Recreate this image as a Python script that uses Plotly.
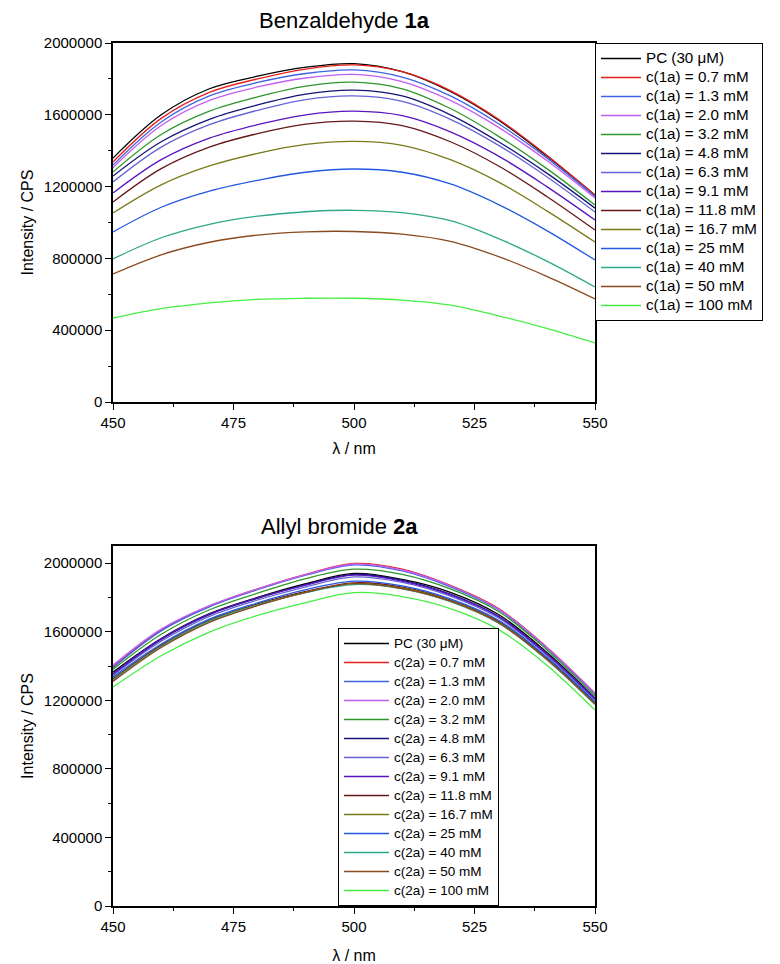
import plotly.graph_objects as go

wavelength = [450, 460, 470, 480, 490, 500, 510, 520, 530, 540, 550]

conc_labels = ["0.7", "1.3", "2.0", "3.2", "4.8", "6.3", "9.1", "11.8", "16.7", "25", "40", "50", "100"]

colors = ["#000000", "#e8201c", "#3f63e0", "#c45ef0", "#2f962a", "#141478", "#6464d8",
          "#5a14c0", "#661818", "#7a7a1c", "#2458e0", "#2fa88a", "#8a4a1e", "#44ee44"]

# Benzaldehyde 1a (values in counts per second)
top_pc   = [1359000, 1600000, 1745000, 1815000, 1865000, 1885000, 1840000, 1730000, 1570000, 1370000, 1153000]
top_0p7  = [1337000, 1580000, 1725000, 1800000, 1855000, 1878000, 1840000, 1735000, 1575000, 1375000, 1153000]
top_1p3  = [1320000, 1560000, 1705000, 1780000, 1830000, 1850000, 1810000, 1705000, 1550000, 1360000, 1145000]
top_2p0  = [1305000, 1540000, 1680000, 1755000, 1805000, 1825000, 1785000, 1680000, 1530000, 1345000, 1136000]
top_3p2  = [1281000, 1490000, 1620000, 1700000, 1760000, 1782000, 1745000, 1635000, 1480000, 1300000, 1097000]
top_4p8  = [1259000, 1450000, 1575000, 1655000, 1715000, 1737000, 1705000, 1600000, 1450000, 1275000, 1080000]
top_6p3  = [1226000, 1420000, 1545000, 1625000, 1685000, 1705000, 1675000, 1575000, 1430000, 1255000, 1058000]
top_9p1  = [1164000, 1350000, 1470000, 1545000, 1600000, 1620000, 1595000, 1505000, 1370000, 1200000, 1014000]
top_11p8 = [1114000, 1300000, 1420000, 1495000, 1548000, 1565000, 1540000, 1450000, 1315000, 1145000, 958000]
top_16p7 = [1053000, 1210000, 1315000, 1385000, 1435000, 1452000, 1430000, 1350000, 1225000, 1065000, 891000]
top_25   = [947000, 1085000, 1175000, 1235000, 1280000, 1298000, 1280000, 1215000, 1100000, 955000, 791000]
top_40   = [797000, 915000, 990000, 1035000, 1060000, 1068000, 1055000, 1010000, 910000, 785000, 641000]
top_50   = [713000, 820000, 890000, 930000, 948000, 950000, 935000, 895000, 810000, 700000, 574000]
top_100  = [468000, 520000, 552000, 572000, 578000, 578000, 568000, 540000, 480000, 410000, 329000]

# Allyl bromide 2a
bot_pc   = [1364000, 1560000, 1705000, 1800000, 1880000, 1940000, 1905000, 1830000, 1700000, 1480000, 1213000]
bot_0p7  = [1395000, 1610000, 1750000, 1850000, 1935000, 1998000, 1965000, 1870000, 1735000, 1510000, 1242000]
bot_1p3  = [1390000, 1605000, 1745000, 1845000, 1930000, 1990000, 1955000, 1862000, 1728000, 1503000, 1235000]
bot_2p0  = [1405000, 1615000, 1752000, 1850000, 1933000, 1995000, 1960000, 1868000, 1732000, 1508000, 1240000]
bot_3p2  = [1380000, 1585000, 1728000, 1825000, 1910000, 1965000, 1935000, 1850000, 1718000, 1495000, 1225000]
bot_4p8  = [1350000, 1555000, 1700000, 1795000, 1875000, 1935000, 1900000, 1820000, 1690000, 1470000, 1205000]
bot_6p3  = [1345000, 1545000, 1690000, 1785000, 1862000, 1920000, 1888000, 1808000, 1680000, 1463000, 1200000]
bot_9p1  = [1355000, 1558000, 1703000, 1797000, 1872000, 1930000, 1895000, 1815000, 1688000, 1470000, 1210000]
bot_11p8 = [1325000, 1520000, 1668000, 1762000, 1835000, 1885000, 1860000, 1785000, 1660000, 1445000, 1185000]
bot_16p7 = [1320000, 1515000, 1663000, 1757000, 1830000, 1880000, 1855000, 1780000, 1655000, 1440000, 1180000]
bot_25   = [1335000, 1528000, 1673000, 1768000, 1845000, 1895000, 1868000, 1792000, 1667000, 1452000, 1190000]
bot_40   = [1315000, 1512000, 1660000, 1755000, 1828000, 1875000, 1850000, 1775000, 1650000, 1437000, 1175000]
bot_50   = [1310000, 1508000, 1655000, 1752000, 1830000, 1880000, 1852000, 1778000, 1652000, 1440000, 1178000]
bot_100  = [1277000, 1460000, 1598000, 1695000, 1770000, 1828000, 1805000, 1735000, 1612000, 1405000, 1143000]

top_series = [top_pc, top_0p7, top_1p3, top_2p0, top_3p2, top_4p8, top_6p3, top_9p1,
              top_11p8, top_16p7, top_25, top_40, top_50, top_100]
bot_series = [bot_pc, bot_0p7, bot_1p3, bot_2p0, bot_3p2, bot_4p8, bot_6p3, bot_9p1,
              bot_11p8, bot_16p7, bot_25, bot_40, bot_50, bot_100]

FONT = "Liberation Sans, Arial, sans-serif"

def label(i, tag, size):
    txt = "PC (30 μM)" if i == 0 else f"c({tag}) = {conc_labels[i-1]} mM"
    return f'<span style="font-size:{size}px">{txt}</span>'

fig = go.Figure()

for i, ys in enumerate(top_series):
    fig.add_trace(go.Scatter(x=wavelength, y=ys, mode="lines", name=label(i, "1a", 15.2),
                             line=dict(color=colors[i], width=1.3, shape="spline"),
                             xaxis="x", yaxis="y", legend="legend"))
for i, ys in enumerate(bot_series):
    fig.add_trace(go.Scatter(x=wavelength, y=ys, mode="lines", name=label(i, "2a", 13.5),
                             line=dict(color=colors[i], width=1.3, shape="spline"),
                             xaxis="x2", yaxis="y2", legend="legend2"))

# page body has an 8px margin, so the figure is drawn 8px in from the window edge
W, H = 772, 956
ML, MT, MB = 105, 35, 58
MR = W - 587
H_PLOT = H - MT - MB

def xax(anchor, standoff):
    return dict(range=[450, 550], tickvals=[450, 475, 500, 525, 550], anchor=anchor,
                automargin=False,
                showline=True, linecolor="black", linewidth=1.5, mirror=True,
                ticks="outside", ticklen=6, tickwidth=1.3, tickcolor="black",
                minor=dict(dtick=12.5, tick0=450, ticks="outside", ticklen=3, tickwidth=1.3, tickcolor="black"),
                showgrid=False, zeroline=False,
                tickfont=dict(size=15, color="black"),
                title=dict(text="λ / nm", font=dict(size=16, color="black"), standoff=standoff))

def yax(anchor, domain, ymax):
    return dict(range=[0, ymax], domain=domain, anchor=anchor,
                automargin=False,
                tickvals=[0, 400000, 800000, 1200000, 1600000, 2000000], tickformat="d",
                showline=True, linecolor="black", linewidth=1.5, mirror=True,
                ticks="outside", ticklen=6, tickwidth=1.3, tickcolor="black",
                minor=dict(dtick=200000, tick0=0, ticks="outside", ticklen=3, tickwidth=1.3, tickcolor="black"),
                showgrid=False, zeroline=False,
                tickfont=dict(size=15, color="black"),
                title=dict(text="Intensity / CPS", font=dict(size=16, color="black"), standoff=6))

fig.update_layout(
    width=W, height=H,
    margin=dict(l=ML, r=MR, t=MT, b=MB, autoexpand=False),
    paper_bgcolor="white", plot_bgcolor="white",
    font=dict(family=FONT, color="black"),
    xaxis=xax("y", 13),
    yaxis=yax("x", [(898 - 394) / H_PLOT, 1.0], 2000000),
    xaxis2=xax("y2", 18),
    yaxis2=yax("x2", [0.0, (898 - 538) / H_PLOT], 2100000),
    legend=dict(x=1.0, xanchor="left", y=1.0, yanchor="top",
                bordercolor="black", borderwidth=1, bgcolor="white",
                font=dict(size=12, color="black"), itemwidth=40),
    legend2=dict(x=(330 - 105) / 482, xanchor="left", y=0.0, yanchor="bottom",
                 bordercolor="black", borderwidth=1, bgcolor="white",
                 font=dict(size=12, color="black"), itemwidth=45),
    showlegend=True,
    annotations=[
        dict(text="Benzaldehyde <b>1a</b>", x=0.48, y=1 + 23 / H_PLOT, xref="paper", yref="paper",
             xanchor="center", yanchor="middle", showarrow=False, font=dict(size=22, color="black")),
        dict(text="Allyl bromide <b>2a</b>", x=0.47, y=(898 - 518) / H_PLOT, xref="paper", yref="paper",
             xanchor="center", yanchor="middle", showarrow=False, font=dict(size=22, color="black")),
    ],
)

fig.write_html("out.html")
